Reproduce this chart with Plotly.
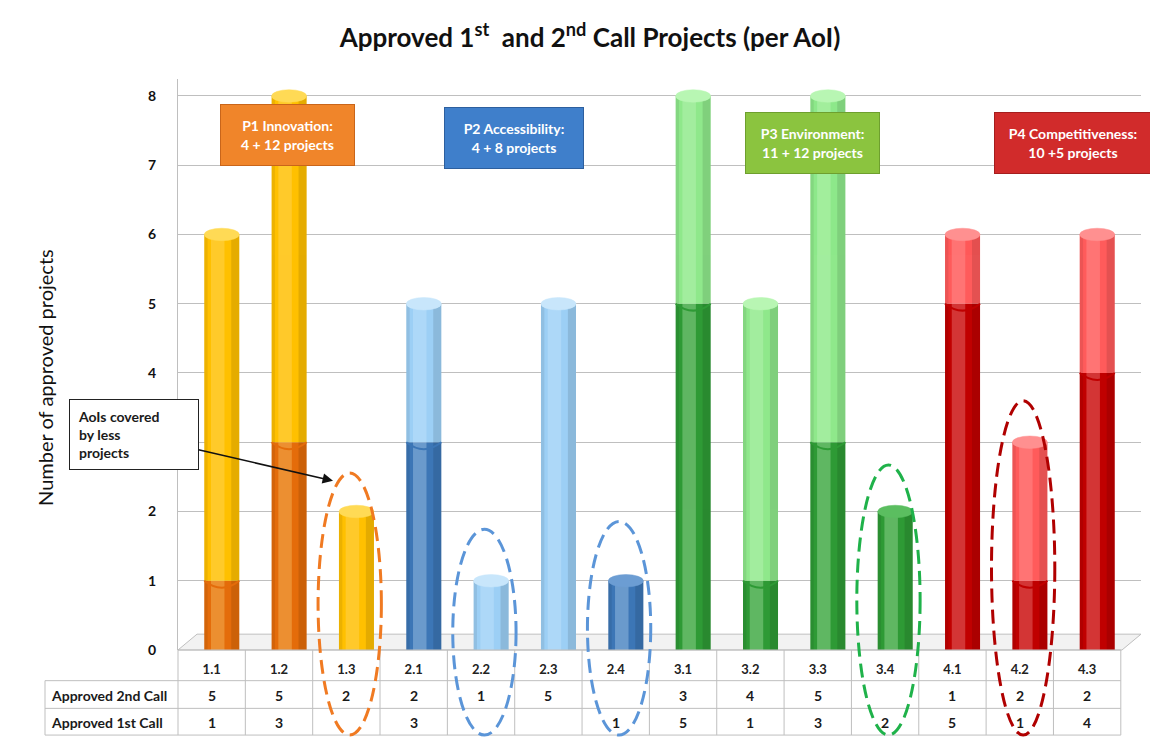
import plotly.graph_objects as go

aois = ["1.1", "1.2", "1.3", "2.1", "2.2", "2.3", "2.4",
        "3.1", "3.2", "3.3", "3.4", "4.1", "4.2", "4.3"]
first_call = [1, 3, 0, 3, 0, 0, 1, 5, 1, 3, 2, 5, 1, 4]
second_call = [5, 5, 2, 2, 1, 5, 0, 3, 4, 5, 0, 1, 2, 2]
priority = [1, 1, 1, 2, 2, 2, 2, 3, 3, 3, 3, 4, 4, 4]
y_ticks = [0, 1, 2, 3, 4, 5, 6, 7, 8]
pillar_labels = [
    "P1 Innovation:<br>4 + 12 projects",
    "P2 Accessibility:<br>4 + 8 projects",
    "P3 Environment:<br>11 + 12 projects",
    "P4 Competitiveness:<br>10 +5 projects",
]
low_coverage = ["1.3", "2.2", "2.4", "3.4", "4.2"]

FONT = "Lato, 'Open Sans', sans-serif"
W, H = 1150, 750

DARK = {1: "#E46C0A", 2: "#3C76B6", 3: "#2E9A35", 4: "#C00000"}
LIGHT = {1: "#FFC000", 2: "#9CCFF5", 3: "#8FE88B", 4: "#FF5B5B"}
DARK_CAP = {1: "#F39A4A", 2: "#6C9DD3", 3: "#5BBE60", 4: "#E23C3C"}
LIGHT_CAP = {1: "#FFDA55", 2: "#C8E6FB", 3: "#B8F6B3", 4: "#FF9090"}
HILITE = {1: "#FFE08A", 2: "#D6EEFF", 3: "#CFFACB", 4: "#FFB0B0"}
BOX = {1: "#F0852A", 2: "#3F7FCB", 3: "#8BC43F", 4: "#D12B2B"}
BOX_EDGE = {1: "#C9651A", 2: "#2D5F9E", 3: "#6E9F2E", 4: "#A51E1E"}
RING = {1: "#F07A22", 2: "#5B95D8", 3: "#1FB24A", 4: "#B00000"}
GRID = "#BFBFBF"


def px(p):
    """Window pixel x -> paper x."""
    return p / W


def py(p):
    """Window pixel y -> paper y."""
    return 1 - p / H


# plot-area geometry
X_DOM = [px(178), px(1141)]
X_RANGE = [-0.5, 13.8]
Y_DOM = [py(657), py(79.5)]
Y_RANGE = [0, 8.25]
BAR_W = 0.52
BAR_OFF = -0.11


def cat_x(i):
    """Paper x of a category position on the x axis."""
    f = (i - X_RANGE[0]) / (X_RANGE[1] - X_RANGE[0])
    return X_DOM[0] + f * (X_DOM[1] - X_DOM[0])


totals = [a + b for a, b in zip(first_call, second_call)]
dark = [DARK[p] for p in priority]
light = [LIGHT[p] for p in priority]
hilite = [HILITE[p] for p in priority]

fig = go.Figure()
segments = [
    ("Approved 1st Call", first_call, [0] * len(aois), dark),
    ("Approved 2nd Call", second_call, first_call, light),
]
for name, vals, base, colors in segments:
    fig.add_trace(go.Bar(
        x=aois, y=vals, base=base, name=name,
        width=BAR_W, offset=BAR_OFF,
        marker=dict(color=colors, line=dict(width=0)),
        hovertemplate=name + " %{x}: %{y}<extra></extra>",
    ))
for name, vals, base, colors in segments:
    # soft cylinder highlight and shaded edges
    fig.add_trace(go.Bar(
        x=aois, y=vals, base=base, width=0.2, offset=BAR_OFF + 0.1,
        marker=dict(color=hilite, line=dict(width=0)), opacity=0.3,
        hoverinfo="skip", showlegend=False,
    ))
    fig.add_trace(go.Bar(
        x=aois, y=vals, base=base, width=0.12, offset=BAR_OFF + BAR_W - 0.12,
        marker=dict(color="#000000", line=dict(width=0)), opacity=0.1,
        hoverinfo="skip", showlegend=False,
    ))
    fig.add_trace(go.Bar(
        x=aois, y=vals, base=base, width=0.05, offset=BAR_OFF,
        marker=dict(color="#000000", line=dict(width=0)), opacity=0.07,
        hoverinfo="skip", showlegend=False,
    ))

shapes = []
# light floor of the 3D plot
shapes.append(dict(
    type="path", xref="paper", yref="paper", layer="below",
    path=f"M {px(178)} {py(657)} L {px(197)} {py(641)} L {px(1141)} {py(641)} "
         f"L {px(1122)} {py(657)} Z",
    fillcolor="#F2F2F2", line=dict(color=GRID, width=1),
))
# caps on top of each cylinder
for i, (tot, top) in enumerate(zip(totals, second_call)):
    cap = LIGHT_CAP[priority[i]] if top > 0 else DARK_CAP[priority[i]]
    shapes.append(dict(
        type="circle", xref="x", yref="y",
        x0=i + BAR_OFF, x1=i + BAR_OFF + BAR_W, y0=tot - 0.09, y1=tot + 0.09,
        fillcolor=cap, line=dict(color=cap, width=0.5),
    ))
    if first_call[i] > 0 and top > 0:
        shapes.append(dict(
            type="path", xref="x", yref="y",
            path=(f"M {i + BAR_OFF} {first_call[i]} Q {i + BAR_OFF + BAR_W / 2} "
                  f"{first_call[i] - 0.2} {i + BAR_OFF + BAR_W} {first_call[i]}"),
            line=dict(color=DARK[priority[i]], width=2),
        ))

# data table under the axis
rows_y = [657, 688, 716, 743]
left = px(45)
right = cat_x(len(aois) - 0.5)
for k, yy in enumerate(rows_y):
    shapes.append(dict(type="line", xref="paper", yref="paper",
                       x0=X_DOM[0] if k == 0 else left, x1=right, y0=py(yy), y1=py(yy),
                       line=dict(color=GRID, width=1)))
shapes.append(dict(type="line", xref="paper", yref="paper", x0=left, x1=left,
                   y0=py(688), y1=py(743), line=dict(color=GRID, width=1)))
for k in range(len(aois) + 1):
    xx = cat_x(k - 0.5)
    shapes.append(dict(type="line", xref="paper", yref="paper", x0=xx, x1=xx,
                       y0=py(657), y1=py(743), line=dict(color=GRID, width=1)))

# dashed rings round the AoIs with few projects
ring_top = {"1.3": 478, "2.2": 535, "2.4": 527, "3.4": 470, "4.2": 405}
for a in low_coverage:
    i = aois.index(a)
    shapes.append(dict(
        type="circle", xref="paper", yref="paper",
        x0=cat_x(i + 0.05 - 0.47), x1=cat_x(i + 0.05 + 0.47),
        y0=py(743), y1=py(ring_top[a]),
        line=dict(color=RING[priority[i]], width=3, dash="14px,7px"),
    ))

annotations = []
for i, a in enumerate(aois):
    for vals, yy in ((second_call, 703), (first_call, 730)):
        if vals[i]:
            annotations.append(dict(
                x=i, y=py(yy), xref="x", yref="paper", text=str(vals[i]),
                xanchor="center", yanchor="middle", showarrow=False,
                font=dict(size=14, color="#1a1a1a", weight="bold"),
            ))
for label, yy in (("Approved 2nd Call", 703), ("Approved 1st Call", 730)):
    annotations.append(dict(
        x=px(49), y=py(yy), xref="paper", yref="paper", text=label,
        xanchor="left", yanchor="middle", showarrow=False,
        font=dict(size=14, color="#1a1a1a", weight="bold"),
    ))

box_pos = [(287, 136, 125), (514, 139, 130), (812, 145, 125), (1073, 145, 148)]
for k, (label, (cx, cy, bw)) in enumerate(zip(pillar_labels, box_pos), start=1):
    annotations.append(dict(
        x=px(cx), y=py(cy), xref="paper", yref="paper", text=label,
        xanchor="center", yanchor="middle",
        showarrow=False, width=bw, height=52, borderpad=4,
        bgcolor=BOX[k], bordercolor=BOX_EDGE[k], borderwidth=1,
        font=dict(size=14, color="white", weight="bold"),
    ))

annotations.append(dict(
    x=px(333), y=py(486), xref="paper", yref="paper",
    ax=-199, ay=-46, text="AoIs covered<br>by less<br>projects",
    align="left", showarrow=True, arrowhead=2, arrowsize=1.3, arrowwidth=1.6,
    arrowcolor="#111111", bgcolor="white", bordercolor="#222222", borderwidth=1,
    borderpad=8, width=112, font=dict(size=14, color="#1a1a1a", weight="bold"),
))
annotations.append(dict(
    x=px(45), y=py(382), xref="paper", yref="paper", textangle=-90,
    xanchor="center", yanchor="middle",
    text="Number of approved projects", showarrow=False,
    font=dict(size=20, color="#111111"),
))

fig.update_layout(
    width=W, height=H,
    title=dict(text="Approved 1<sup>st</sup>  and 2<sup>nd</sup> Call Projects (per AoI)",
               x=px(590), y=py(38), xanchor="center", yanchor="middle",
               font=dict(size=26, color="#111111", family=FONT, weight="bold")),
    font=dict(family=FONT, color="#111111"),
    barmode="overlay",
    showlegend=False,
    paper_bgcolor="white",
    plot_bgcolor="white",
    margin=dict(l=0, r=0, t=0, b=0),
    shapes=shapes,
    annotations=annotations,
)
fig.update_xaxes(
    domain=X_DOM, range=X_RANGE, type="category",
    showgrid=False, zeroline=False, showline=False,
    ticks="", ticklabelstandoff=10,
    tickfont=dict(size=13, color="#222222", weight="bold"),
)
fig.update_yaxes(
    domain=Y_DOM, range=Y_RANGE, tickvals=y_ticks,
    showgrid=True, gridcolor=GRID, gridwidth=1, zeroline=False,
    showline=True, linecolor=GRID, ticks="", ticklabelstandoff=18,
    tickfont=dict(size=14, color="#111111", weight="bold"),
)

# drop the default page margin so the figure fills the window exactly
fig.write_html(
    "out.html",
    config={"displayModeBar": False},
    post_script="document.body.style.margin = '0';",
)
